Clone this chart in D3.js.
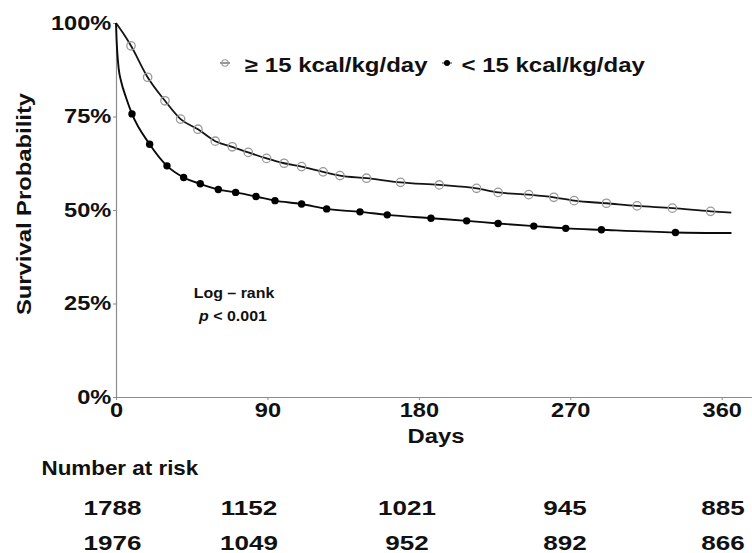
<!DOCTYPE html>
<html>
<head>
<meta charset="utf-8">
<script src="https://cdn.jsdelivr.net/npm/d3@7/dist/d3.min.js"></script>
<style>
  body { margin: 0; background: #fff; }
  svg { display: block; }
  text { font-family: "Liberation Sans", Arial, sans-serif; font-weight: bold; fill: #111; }
</style>
</head>
<body>
<svg id="chart" width="752" height="553"></svg>
<script>
// values
const groups = ['\u2265 15 kcal/kg/day', '< 15 kcal/kg/day'];
const xTicks = [0, 90, 180, 270, 360];
const yTicks = [0, 0.25, 0.5, 0.75, 1];

// Kaplan-Meier curve, >= 15 kcal/kg/day  [day, survival]
const highCurve = [
  [0, 1], [4.2, 0.973], [8.9, 0.939], [18.8, 0.855], [29.1, 0.792], [38.4, 0.743],
  [48.7, 0.716], [59.0, 0.684], [69.1, 0.669], [78.6, 0.654], [89.5, 0.638],
  [99.9, 0.625], [110.3, 0.616], [123.1, 0.602], [133.1, 0.592], [148.9, 0.585],
  [169.1, 0.574], [192.1, 0.567], [214.3, 0.558], [227.1, 0.547], [245.3, 0.541],
  [260.2, 0.534], [272.3, 0.525], [291.5, 0.518], [309.7, 0.511], [330.7, 0.505],
  [353.4, 0.4965], [365.7, 0.493]
];
const highMarks = [
  [8.9, 0.939], [18.8, 0.855], [29.1, 0.792], [38.4, 0.743], [48.7, 0.716],
  [59.0, 0.684], [69.1, 0.669], [78.6, 0.654], [89.5, 0.638], [99.9, 0.625],
  [110.3, 0.616], [123.1, 0.602], [133.1, 0.592], [148.9, 0.585], [169.1, 0.574],
  [192.1, 0.567], [214.3, 0.558], [227.1, 0.547], [245.3, 0.541], [260.2, 0.534],
  [272.3, 0.525], [291.5, 0.518], [309.7, 0.511], [330.7, 0.505], [353.4, 0.4965]
];

// Kaplan-Meier curve, < 15 kcal/kg/day
const lowCurve = [
  [0, 1], [0.3, 0.96], [0.8, 0.919], [1.6, 0.878], [3.1, 0.843], [6.1, 0.799],
  [9.5, 0.757], [20.0, 0.676], [30.3, 0.618], [40.2, 0.587], [50.1, 0.570],
  [60.8, 0.555], [71.1, 0.547], [83.2, 0.536], [94.5, 0.525], [110.3, 0.516],
  [125.2, 0.503], [145.0, 0.495], [161.2, 0.487], [187.2, 0.478], [208.4, 0.471],
  [227.1, 0.464], [248.3, 0.457], [267.3, 0.451], [288.5, 0.447], [332.5, 0.440],
  [365.8, 0.4385]
];
const lowMarks = [
  [9.5, 0.757], [20.0, 0.676], [30.3, 0.618], [40.2, 0.587], [50.1, 0.570],
  [60.8, 0.555], [71.1, 0.547], [83.2, 0.536], [94.5, 0.525], [110.3, 0.516],
  [125.2, 0.503], [145.0, 0.495], [161.2, 0.487], [187.2, 0.478], [208.4, 0.471],
  [227.1, 0.464], [248.3, 0.457], [267.3, 0.451], [288.5, 0.447], [332.5, 0.440]
];

// number at risk table
const riskDays = [0, 90, 180, 270, 360];
const riskHigh = [1788, 1152, 1021, 945, 885];
const riskLow = [1976, 1049, 952, 892, 866];

const AXIS_COLOR = '#8c8c8c';
const svg = d3.select('#chart');

const x = d3.scaleLinear().domain([0, 378]).range([116, 752]);
const y = d3.scaleLinear().domain([0, 1]).range([397, 23]);

// text is drawn a bit wider than Liberation Sans, like the reference
function label(parent, txt, px, py, size, sx, anchor) {
  return parent.append('text')
    .attr('transform', `translate(${px},${py}) scale(${sx},1)`)
    .attr('font-size', size)
    .attr('text-anchor', anchor || 'start')
    .text(txt);
}

// axes
const yAxis = svg.append('g')
  .attr('transform', `translate(${x(0)},0)`)
  .call(d3.axisLeft(y).tickValues(yTicks).tickFormat(d3.format('.0%'))
    .tickSize(3).tickSizeOuter(0).tickPadding(1));
const xAxis = svg.append('g')
  .attr('transform', `translate(0,${y(0)})`)
  .call(d3.axisBottom(x).tickValues(xTicks).tickFormat(d3.format('d'))
    .tickSize(3).tickSizeOuter(0).tickPadding(3));

[yAxis, xAxis].forEach((ax) => {
  ax.attr('font-family', null).attr('font-size', null);
  ax.select('.domain').attr('stroke', AXIS_COLOR).attr('stroke-width', 1.2);
  ax.selectAll('.tick line').attr('stroke', AXIS_COLOR);
  ax.selectAll('.tick text')
    .attr('font-size', 20)
    .attr('fill', '#111')
    .attr('transform', 'scale(1.18,1)');
});

// axis titles
label(svg, 'Survival Probability', 31, 204, 20, 1.19, 'middle')
  .attr('transform', 'translate(31,204) rotate(-90) scale(1.19,1)');
label(svg, 'Days', 436, 443, 20, 1.19, 'middle');

// curves
const line = d3.line()
  .x((d) => x(d[0]))
  .y((d) => y(d[1]))
  .curve(d3.curveMonotoneX);

svg.append('path')
  .datum(highCurve)
  .attr('d', line)
  .attr('fill', 'none')
  .attr('stroke', '#141414')
  .attr('stroke-width', 1.8);

svg.append('path')
  .datum(lowCurve)
  .attr('d', line)
  .attr('fill', 'none')
  .attr('stroke', '#0a0a0a')
  .attr('stroke-width', 1.9);

svg.append('g')
  .selectAll('circle')
  .data(highMarks)
  .join('circle')
  .attr('cx', (d) => x(d[0]))
  .attr('cy', (d) => y(d[1]))
  .attr('r', 4.2)
  .attr('fill', 'none')
  .attr('stroke', '#9a9a9a')
  .attr('stroke-width', 1.3);

svg.append('g')
  .selectAll('circle')
  .data(lowMarks)
  .join('circle')
  .attr('cx', (d) => x(d[0]))
  .attr('cy', (d) => y(d[1]))
  .attr('r', 3.7)
  .attr('fill', '#000');

// legend
const legend = svg.append('g');
const keyHigh = legend.append('g').attr('transform', 'translate(225,63)');
keyHigh.append('line').attr('x1', -5).attr('x2', 5).attr('stroke', '#333').attr('stroke-width', 1);
keyHigh.append('circle').attr('r', 3.2).attr('fill', 'none').attr('stroke', '#9a9a9a').attr('stroke-width', 1.1);
label(legend, groups[0], 245, 71.5, 20, 1.2);

const keyLow = legend.append('g').attr('transform', 'translate(447,63)');
keyLow.append('line').attr('x1', -5).attr('x2', 5).attr('stroke', '#333').attr('stroke-width', 1);
keyLow.append('circle').attr('r', 3).attr('fill', '#000');
label(legend, groups[1], 461.5, 71.5, 20, 1.2);

// log-rank note
label(svg, 'Log \u2013 rank', 234, 298, 14.5, 1.1, 'middle');
const pText = label(svg, '', 233, 320.5, 14.5, 1.1, 'middle');
pText.append('tspan').attr('font-style', 'italic').text('p');
pText.append('tspan').text(' < 0.001');

// number at risk
label(svg, 'Number at risk', 41.5, 475, 20, 1.12);
const riskX = d3.scaleLinear().domain([0, 90, 360]).range([112.5, 249, 723]);
const riskRows = [riskHigh, riskLow];
const rowY = [515, 550];
riskRows.forEach((row, i) => {
  row.forEach((n, j) => {
    label(svg, String(n), riskX(riskDays[j]), rowY[i], 21, 1.24, 'middle');
  });
});
</script>
</body>
</html>
